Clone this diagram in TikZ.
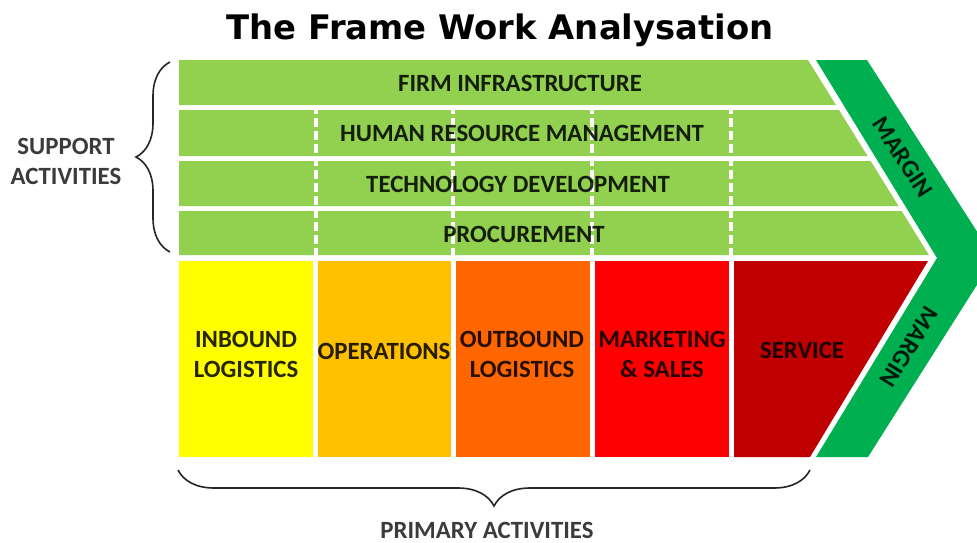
\documentclass[tikz,border=0pt]{standalone}
\usepackage{fontspec}
\setmainfont{Carlito}
\newfontfamily\titlefont{DejaVu Sans}
\usetikzlibrary{decorations.pathreplacing}
\usetikzlibrary{positioning}

\definecolor{supportgreen}{RGB}{146,208,80}
\definecolor{margingreen}{RGB}{0,176,80}
\definecolor{inboundcol}{RGB}{255,255,0}
\definecolor{operationscol}{RGB}{255,192,0}
\definecolor{outboundcol}{RGB}{255,102,0}
\definecolor{marketingcol}{RGB}{255,0,0}
\definecolor{servicecol}{RGB}{192,0,0}

\tikzset{
  lbl/.style={font=\bfseries\fontsize{24.8}{30}\selectfont, text=black, text opacity=0.85,
    align=center, inner sep=0pt},
  sep/.style={white, line width=3.5pt, dash pattern=on 9pt off 4pt},
  curly/.style={decorate, decoration={brace, amplitude=#1}, draw=black!85, line width=1.6pt},
}

\begin{document}
\begin{tikzpicture}[x=1pt,y=-1pt]
\fill[white] (0,0) rectangle (977,542);
\useasboundingbox (0,0) rectangle (977,542);
\clip (0,0) rectangle (977,542);

% support activities, one slanted band each
\foreach \t/\b in {60/105,110/156,161/206,211/255}
  \fill[supportgreen] (179,\t) -- ({808+0.62*(\t-60)},\t) -- ({808+0.62*(\b-60)},\b) -- (179,\b) -- cycle;
\foreach \x in {316,453,592,731} \draw[sep] (\x,105) -- (\x,261);

% primary activities
\foreach \l/\r/\c in {179/313/inboundcol,318/451/operationscol,456/590/outboundcol,595/729/marketingcol}
  \fill[\c] (\l,261) rectangle (\r,457);
\fill[servicecol] (734,261) -- (928,261) -- (810,457) -- (734,457) -- cycle;

% margin chevron
\fill[margingreen] (816,60) -- (867,60) -- (994,258) -- (868,457) -- (816,457) -- (937,258) -- cycle;

\node[font=\titlefont\bfseries\fontsize{33.8}{40}\selectfont, anchor=base] (title) at (500,39) {The Frame Work Analysation};

\node[lbl] (firm) at (520,83) {FIRM INFRASTRUCTURE};
\node[lbl] (hrm) at (522,133) {HUMAN RESOURCE MANAGEMENT};
\node[lbl] (tech) at (518,184) {TECHNOLOGY DEVELOPMENT};
\node[lbl] (procure) at (524,234) {PROCUREMENT};

\node[lbl] (inbound) at (246,354) {INBOUND\\LOGISTICS};
\node[lbl] (ops) at (384,351) {OPERATIONS};
\node[lbl] (outbound) at (522,354) {OUTBOUND\\LOGISTICS};
\node[lbl] (mkt) at (662,354) {MARKETING\\\& SALES};
\node[lbl] (service) at (802,350) {SERVICE};

\node[lbl, rotate=-57] (margintop) at (903,157) {MARGIN};
\node[lbl, rotate=238] (marginbot) at (909,347) {MARGIN};

% braces
\coordinate (supptop) at (170,62);
\coordinate (suppbot) at (170,252);
\coordinate (primleft) at (178,470);
\coordinate (primright) at (810,470);
\draw[curly=34] (suppbot) -- (supptop);
\draw[curly=36] (primright) -- (primleft);

\node[lbl, text=black!90] (support) at (66,161) {SUPPORT\\ACTIVITIES};
\node[lbl, text=black!90] (primary) at (487,530) {PRIMARY ACTIVITIES};

\end{tikzpicture}
\end{document}
